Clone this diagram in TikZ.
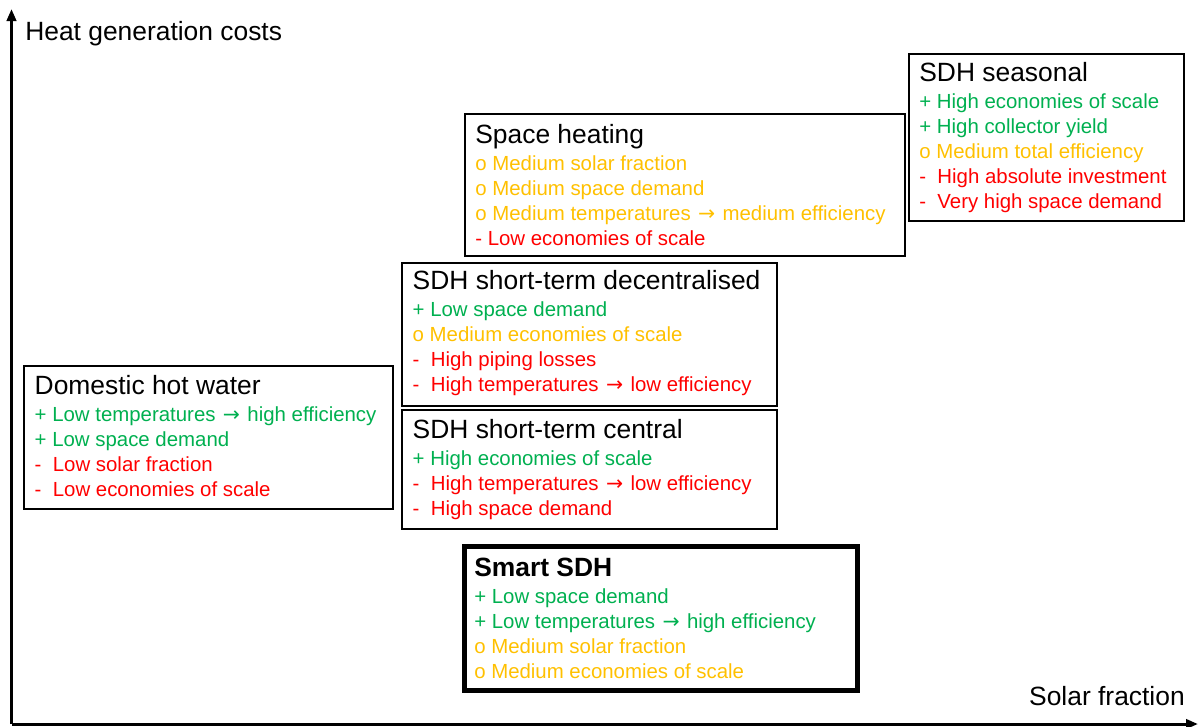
\documentclass[tikz,border=0pt]{standalone}
\usepackage{fontspec}
\setmainfont{Liberation Sans}
\newfontfamily\arrfont{DejaVu Sans}
\usetikzlibrary{arrows.meta}
\definecolor{pgreen}{HTML}{00B050}
\definecolor{porange}{HTML}{FFC000}
\definecolor{pred}{HTML}{FF0000}
\newcommand{\bxtitle}[1]{{\fontsize{19.8}{22}\selectfont #1}\\[1.6pt]}
\newcommand{\gp}[1]{\textcolor{pgreen}{+ #1}}
\newcommand{\om}[1]{\textcolor{porange}{o #1}}
\newcommand{\mn}[1]{\textcolor{pred}{-\ \ #1}}
\newcommand{\mns}[1]{\textcolor{pred}{- #1}}
\newcommand{\rarr}{\hspace{1.3pt}{\arrfont\fontsize{15.3}{18.75}\selectfont →}\hspace{1.3pt}}
\begin{document}
\begin{tikzpicture}[x=0.75pt,y=-0.75pt,
  box/.style={draw=black, line width=1.5pt, anchor=north west, inner sep=0pt},
  smartbox/.style={box, line width=3.75pt},
  txt/.style={anchor=west, align=left, inner sep=0pt, font=\fontsize{15.3}{18.75}\selectfont},
  axis/.style={line width=2.25pt, -{Triangle[length=9pt,width=7pt]}},
  axlabel/.style={inner sep=0pt, font=\fontsize{19.8}{22}\selectfont}]
\useasboundingbox (0,0) rectangle (1198,726);

% axes
\coordinate (o) at (11.5,724);
\coordinate (ytip) at (11.5,9);
\coordinate (xtip) at (1198,724);
\draw[axis] (o) -- (ytip);
\draw[axis] (o) -- (xtip);
\node[axlabel, anchor=base west] (ylab) at (25,40) {Heat generation costs};
\node[axlabel, anchor=base east] (xlab) at (1185,705) {Solar fraction};

% boxes
\node[box, minimum width=276.75pt, minimum height=107.25pt] (dhw) at (23,365) {};
\node[txt] (dhwt) at ([xshift=8.6pt,yshift=1pt]dhw.west) {\bxtitle{Domestic hot water}\gp{Low temperatures \rarr\ high efficiency}\\ \gp{Low space demand}\\ \mn{Low solar fraction}\\ \mn{Low economies of scale}};

\node[box, minimum width=281.25pt, minimum height=107.25pt] (dec) at (401,262) {};
\node[txt] (dect) at ([xshift=8.6pt,yshift=1pt]dec.west) {\bxtitle{SDH short-term decentralised}\gp{Low space demand}\\ \om{Medium economies of scale}\\ \mn{High piping losses}\\ \mn{High temperatures \rarr\ low efficiency}};

\node[box, minimum width=281.25pt, minimum height=89.25pt] (cen) at (401,409) {};
\node[txt] (cent) at ([xshift=8.6pt]cen.west) {\bxtitle{SDH short-term central}\gp{High economies of scale}\\ \mn{High temperatures \rarr\ low efficiency}\\ \mn{High space demand}};

\node[box, minimum width=330pt, minimum height=106.5pt] (sh) at (464,113) {};
\node[txt] (sht) at ([xshift=8.3pt]sh.west) {\bxtitle{Space heating}\om{Medium solar fraction}\\ \om{Medium space demand}\\ \om{Medium temperatures \rarr\ medium efficiency}\\ \mns{Low economies of scale}};

\node[box, minimum width=206.25pt, minimum height=125.25pt] (sea) at (908,53) {};
\node[txt] (seat) at ([xshift=8.3pt]sea.west) {\bxtitle{SDH seasonal}\gp{High economies of scale}\\ \gp{High collector yield}\\ \om{Medium total efficiency}\\ \mn{High absolute investment}\\ \mn{Very high space demand}};

\node[smartbox, minimum width=294.75pt, minimum height=108pt] (smart) at (462,544) {};
\node[txt] (smartt) at ([xshift=9pt]smart.west) {\bxtitle{\bfseries Smart SDH}\gp{Low space demand}\\ \gp{Low temperatures \rarr\ high efficiency}\\ \om{Medium solar fraction}\\ \om{Medium economies of scale}};
\end{tikzpicture}
\end{document}
